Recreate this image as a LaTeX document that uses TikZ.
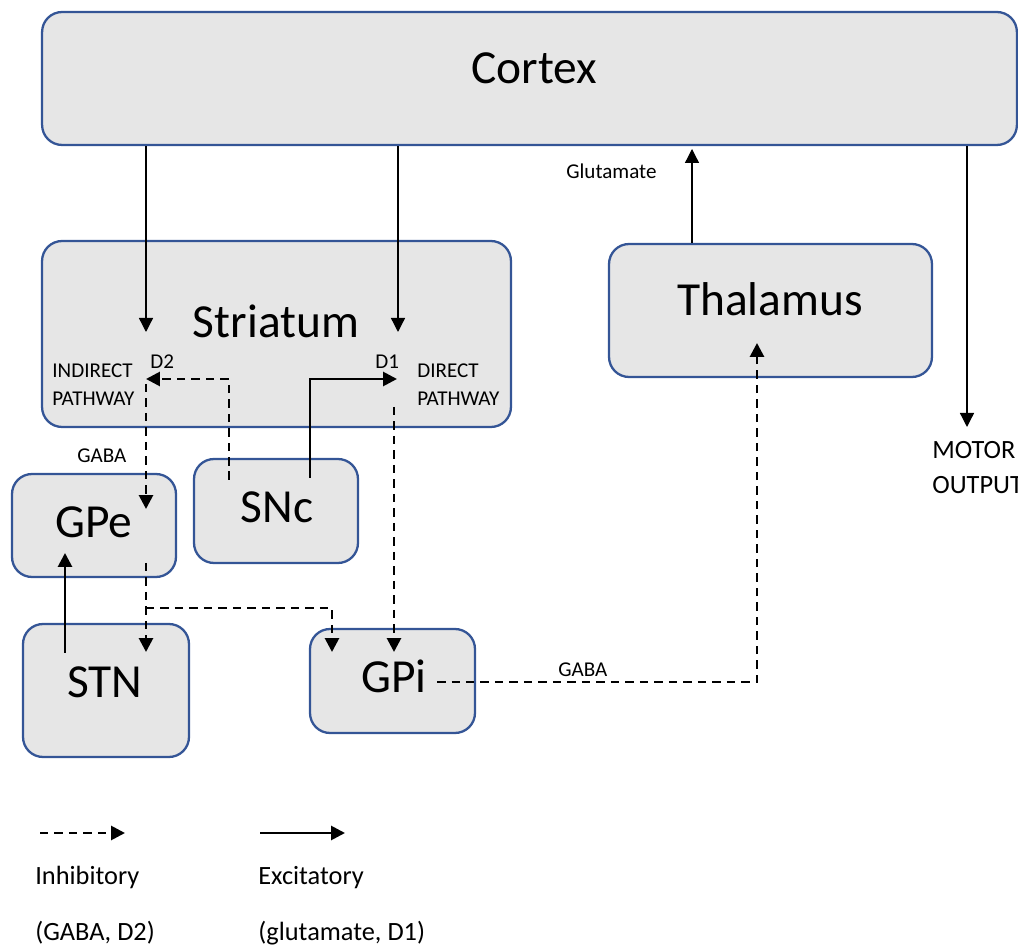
\documentclass[tikz,border=0pt]{standalone}
\usepackage{fontspec}
\setmainfont{Carlito}
\usetikzlibrary{arrows.meta}
\definecolor{boxblue}{RGB}{52,85,150}
\definecolor{boxgray}{RGB}{230,230,230}

\begin{document}
\begin{tikzpicture}[x=0.02cm, y=-0.02cm,
    area/.style ={rounded corners=0.4cm, draw=boxblue, fill=boxgray, line width=1.3pt, inner sep=0pt},
    big/.style ={font=\fontsize{27}{32}\selectfont, inner sep=0pt, text height=17.4pt, text depth=0pt},
    small/.style ={font=\fontsize{12}{14}\selectfont, inner sep=0pt, anchor=west, text height=7.7pt, text depth=0pt},
    mid/.style ={font=\fontsize{15}{18}\selectfont, inner sep=0pt, anchor=west, text height=9.7pt, text depth=0pt},
    thinarrow/.style ={-{Triangle[length=0.28cm, width=0.28cm]}, line width=0.75pt},
    exc/.style ={-{Triangle[length=0.28cm, width=0.28cm]}, line width=1.6pt},
    inh/.style ={exc, dash pattern=on 0.17cm off 0.12cm}]
   \useasboundingbox (0,0) rectangle (1018,945);

   % regions
   \node[area, minimum width=19.5cm, minimum height=2.66cm] (cortex) at (529.5,78.5) {};
   \node[area, minimum width=9.38cm, minimum height=3.72cm] (striatum) at (276.5,334) {};
   \node[area, minimum width=6.46cm, minimum height=2.66cm] (thalamus) at (770.5,310.5) {};
   \node[area, minimum width=3.28cm, minimum height=2.06cm] (gpe) at (94,525.5) {};
   \node[area, minimum width=3.28cm, minimum height=2.08cm] (snc) at (276,511) {};
   \node[area, minimum width=3.32cm, minimum height=2.66cm] (stn) at (106,690.5) {};
   \node[area, minimum width=3.30cm, minimum height=2.08cm] (gpi) at (392.5,681) {};

   \node[big] (cortexT) at (534,68) {Cortex};
   \node[big] (striatumT) at (276,322) {Striatum};
   \node[big] (thalamusT) at (770,300) {Thalamus};
   \node[big] (gpeT) at (94,522) {GPe};
   \node[big] (sncT) at (277,507) {SNc};
   \node[big] (stnT) at (105,682) {STN};
   \node[big] (gpiT) at (394,677) {GPi};

   % arrow ends
   \coordinate (ctxL) at (146,332);
   \coordinate (ctxR) at (398,332);
   \coordinate (thalUp) at (692,149);
   \coordinate (motor) at (967,427);
   \coordinate (sncD2) at (229,480);
   \coordinate (d2tip) at (146,379);
   \coordinate (sncD1) at (310,478);
   \coordinate (d1tip) at (397,379);
   \coordinate (indOut) at (146,384);
   \coordinate (gpeTip) at (146,509);
   \coordinate (dirOut) at (394,407);
   \coordinate (gpiTip) at (394,652);
   \coordinate (gpeOut) at (146,563);
   \coordinate (stnTip) at (146,652);
   \coordinate (branch) at (146,608);
   \coordinate (gpiTip2) at (332,652);
   \coordinate (stnOut) at (65,653);
   \coordinate (gpeIn) at (65,553);
   \coordinate (gpiOut) at (437,682);
   \coordinate (thalIn) at (757,343);

   \draw[thinarrow] (cortex.south -| ctxL) -- (ctxL);
   \draw[thinarrow] (cortex.south -| ctxR) -- (ctxR);
   \draw[thinarrow] (thalamus.north -| thalUp) -- (thalUp);
   \draw[thinarrow] (cortex.south -| motor) -- (motor);
   \draw[inh] (sncD2) |- (d2tip);
   \draw[exc] (sncD1) |- (d1tip);
   \draw[inh] (indOut) -- (gpeTip);
   \draw[inh] (dirOut) -- (gpiTip);
   \draw[inh] (gpeOut) -- (stnTip);
   \draw[inh] (branch) -| (gpiTip2);
   \draw[exc] (stnOut) -- (gpeIn);
   \draw[inh] (gpiOut) -| (thalIn);

   % labels
   \node[small] (glu) at (566,172) {Glutamate};
   \node[small] (gabaL) at (77,456) {GABA};
   \node[small] (gabaR) at (558,670) {GABA};
   \node[small] (ind1) at (52,371) {INDIRECT};
   \node[small] (ind2) at (52,399) {PATHWAY};
   \node[small] (dtwo) at (150,362) {D2};
   \node[small] (done) at (375,362) {D1};
   \node[small] (dir1) at (417,371) {DIRECT};
   \node[small] (dir2) at (417,399) {PATHWAY};
   \node[mid] (mot1) at (932,450) {MOTOR};
   \node[mid] (mot2) at (932,485) {OUTPUT};

   % legend
   \coordinate (legI1) at (40,833);
   \coordinate (legI2) at (125,833);
   \coordinate (legE1) at (260,833);
   \coordinate (legE2) at (345,833);
   \draw[inh] (legI1) -- (legI2);
   \draw[exc] (legE1) -- (legE2);
   \node[mid] (inhT) at (35,876) {Inhibitory};
   \node[mid] (inhS) at (35,932) {(GABA, D2)};
   \node[mid] (excT) at (258,876) {Excitatory};
   \node[mid] (excS) at (258,932) {(glutamate, D1)};
\end{tikzpicture}
\end{document}
